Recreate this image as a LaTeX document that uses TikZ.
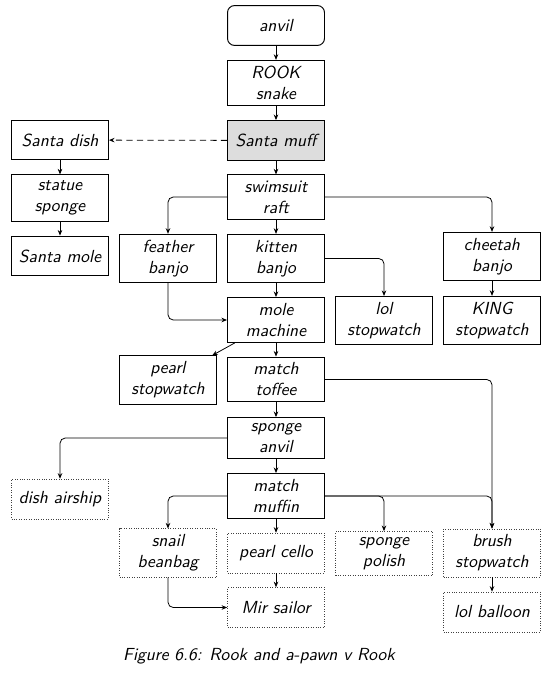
\documentclass[tikz,border=0pt]{standalone}
\usetikzlibrary{arrows.meta}
\begin{document}
\begin{tikzpicture}[x=0.5724pt, y=-0.5724pt,
  every node/.style={font=\sffamily\itshape, align=center},
  box/.style={draw, line width=0.55pt, minimum width=55.5pt, minimum height=22.8pt, inner sep=3.33pt},
  rbox/.style={box, rounded corners=4pt},
  gbox/.style={box, fill=gray!27},
  dbox/.style={draw=black!75, line width=0.4pt, dash pattern=on 0.4pt off 1.0pt, minimum width=55.5pt, minimum height=22.8pt, inner sep=3.33pt},
  arr/.style={-{Stealth[length=3.2pt,width=2.6pt]}, line width=0.45pt, rounded corners=3pt},
  darr/.style={arr, dash pattern=on 3.6pt off 2.4pt},
  captext/.style={font=\sffamily\itshape}
]
\useasboundingbox (0,0) rectangle (548,680);

\node[rbox] (anvil) at (276,25.5) {anvil};
\node[box] (rook) at (276,83) {ROOK\\snake};
\node[gbox] (muff) at (276,140.5) {Santa muff};
\node[box] (sdish) at (60,140) {Santa dish};
\node[box] (statue) at (60,198) {statue\\sponge};
\node[box] (smole) at (60,256) {Santa mole};
\node[box] (swim) at (276,197) {swimsuit\\raft};
\node[box] (feather) at (168,258.5) {feather\\banjo};
\node[box] (kitten) at (276,258.5) {kitten\\banjo};
\node[box] (cheetah) at (492,256.5) {cheetah\\banjo};
\node[box] (molem) at (276,320) {mole\\machine};
\node[box] (lolsw) at (384,320.5) {lol\\stopwatch};
\node[box] (king) at (492,320.5) {KING\\stopwatch};
\node[box] (pearlsw) at (168,380) {pearl\\stopwatch};
\node[box] (toffee) at (276,379.5) {match\\toffee};
\node[box] (sanvil) at (276,438) {sponge\\anvil};
\node[dbox] (dairship) at (60,499) {dish airship};
\node[box] (muffin) at (276,496) {match\\muffin};
\node[dbox] (snail) at (168,553) {snail\\beanbag};
\node[dbox] (cello) at (276,553) {pearl cello};
\node[dbox] (polish) at (384,553.5) {sponge\\polish};
\node[dbox] (brush) at (492,553) {brush\\stopwatch};
\node[dbox] (mir) at (276,607.5) {Mir sailor};
\node[dbox] (balloon) at (492,612) {lol balloon};
\node[captext] (caption) at (259,656) {Figure 6.6: Rook and a-pawn v Rook};

\draw[arr] (anvil) -- (rook);
\draw[arr] (rook) -- (muff);
\draw[darr] (muff) -- (sdish);
\draw[arr] (sdish) -- (statue);
\draw[arr] (statue) -- (smole);
\draw[arr] (muff) -- (swim);
\draw[arr] (swim.west) -| (feather.north);
\draw[arr] (swim) -- (kitten);
\draw[arr] (swim.east) -| (cheetah.north);
\draw[arr] (kitten) -- (molem);
\draw[arr] (kitten.east) -| (lolsw.north);
\draw[arr] (feather.south) |- (molem.west);
\draw[arr] (cheetah) -- (king);
\draw[arr] (molem) -- (pearlsw);
\draw[arr] (molem) -- (toffee);
\draw[arr] (toffee.east) -| (brush.north);
\draw[arr] (toffee) -- (sanvil);
\draw[arr] (sanvil.west) -| (dairship.north);
\draw[arr] (sanvil) -- (muffin);
\draw[arr] (muffin.west) -| (snail.north);
\draw[arr] (muffin) -- (cello);
\draw[arr] (muffin.east) -| (polish.north);
\draw[arr] (muffin.east) -| (brush.north);
\draw[arr] (snail.south) |- (mir.west);
\draw[arr] (cello) -- (mir);
\draw[arr] (brush) -- (balloon);
\end{tikzpicture}
\end{document}
